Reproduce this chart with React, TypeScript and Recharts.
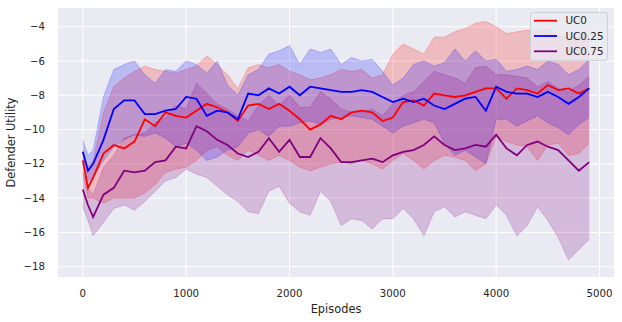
import React from 'react';
import { ComposedChart, Line, Area, XAxis, YAxis, CartesianGrid } from 'recharts';

const episodes = [
  0, 50, 100, 200, 300, 400, 500, 600, 700, 800, 900,
  1000, 1100, 1200, 1300, 1400, 1500, 1600, 1700, 1800, 1900,
  2000, 2100, 2200, 2300, 2400, 2500, 2600, 2700, 2800, 2900,
  3000, 3100, 3200, 3300, 3400, 3500, 3600, 3700, 3800, 3900,
  4000, 4100, 4200, 4300, 4400, 4500, 4600, 4700, 4800, 4900,
];

const uc0Mean = [
  -11.8, -13.4, -12.8, -11.4, -10.9, -11.1, -10.7, -9.4, -9.8, -9.0, -9.2,
  -9.3, -8.9, -8.5, -8.7, -9.0, -9.5, -8.6, -8.5, -8.8, -8.5,
  -8.9, -9.4, -10.0, -9.7, -9.2, -9.4, -9.0, -8.9, -9.0, -9.5,
  -9.3, -8.4, -8.3, -8.6, -7.9, -8.0, -8.1, -8.0, -7.8, -7.6,
  -7.6, -8.2, -7.6, -7.7, -7.9, -7.4, -7.7, -7.6, -7.9, -7.6,
];
const uc0Low = [
  -12.5, -14.0, -14.0, -14.3, -14.0, -14.0, -14.0, -13.7, -13.2, -12.5, -12.3,
  -12.2, -11.8, -11.2, -11.0, -11.5, -11.8, -11.2, -11.5, -11.8, -11.5,
  -11.8, -12.2, -12.4, -12.2, -12.0, -11.9, -12.0, -11.8, -12.0, -12.3,
  -11.8, -11.4, -11.8, -12.3, -11.8, -11.5, -11.6, -11.8, -12.4, -12.0,
  -10.4, -10.7, -10.9, -11.0, -11.8, -10.9, -10.8, -11.5, -11.4, -10.8,
];
const uc0High = [
  -11.2, -12.2, -11.8, -9.0, -7.5, -7.0, -6.6, -6.3, -6.5, -6.6, -6.7,
  -6.5, -6.3, -5.7, -6.2, -6.8, -7.6, -6.4, -6.2, -6.4, -6.2,
  -6.6, -6.8, -7.1, -7.0, -6.8, -6.5, -6.6, -6.5, -7.0, -6.8,
  -5.6, -5.0, -5.3, -5.6, -4.6, -4.6, -4.3, -4.1, -3.8, -3.7,
  -4.0, -4.4, -4.3, -4.2, -4.3, -4.1, -4.5, -4.7, -4.6, -4.4,
];

const uc025Mean = [
  -11.3, -12.4, -12.0, -10.6, -8.8, -8.3, -8.3, -9.1, -9.1, -8.9, -8.8,
  -8.1, -8.2, -9.2, -8.9, -9.0, -9.4, -7.9, -8.0, -7.6, -7.9,
  -7.5, -8.0, -7.5, -7.6, -7.7, -7.8, -7.8, -7.7, -7.8, -8.1,
  -8.4, -8.2, -8.4, -8.2, -8.6, -8.8, -8.5, -8.2, -8.1, -8.9,
  -7.5, -7.8, -7.9, -7.9, -8.1, -7.8, -8.1, -8.5, -8.1, -7.6,
];
const uc025Low = [
  -12.0, -13.0, -12.8, -11.8, -11.0, -10.6, -10.3, -10.4, -10.2, -10.5, -11.0,
  -10.8, -11.2, -11.8, -11.6, -11.2, -11.0, -10.2, -10.0, -10.4, -9.8,
  -9.8, -9.6, -9.5, -9.7, -9.4, -9.3, -9.2, -9.3, -9.4, -9.8,
  -10.2, -9.8, -9.6, -9.4, -9.6, -10.8, -11.5, -11.2, -11.6, -12.0,
  -9.4, -9.4, -9.8, -9.5, -9.2, -9.6, -9.9, -10.3, -9.7, -9.3,
];
const uc025High = [
  -10.6, -11.5, -11.2, -8.1, -6.5, -6.2, -6.0, -6.8, -7.3, -6.5, -6.6,
  -6.0, -6.2, -6.7, -6.0, -7.4, -8.0, -6.8, -6.5, -5.6, -5.4,
  -5.1, -6.2, -5.3, -5.5, -5.3, -6.2, -5.8, -6.0, -5.9, -6.6,
  -7.4, -7.0, -6.2, -6.0, -6.3, -6.1, -5.3, -6.0, -5.4, -6.0,
  -5.9, -6.6, -6.5, -6.3, -6.5, -6.0, -6.2, -6.8, -6.5, -5.9,
];

const uc075Mean = [
  -13.5, -14.4, -15.1, -13.8, -13.4, -12.4, -12.5, -12.4, -11.9, -11.8, -11.0,
  -11.1, -9.8, -10.1, -10.6, -10.9, -11.4, -11.6, -11.3, -10.5, -11.3,
  -10.6, -11.6, -11.6, -10.5, -11.1, -11.9, -11.9, -11.8, -11.7, -11.9,
  -11.5, -11.3, -11.2, -10.9, -10.4, -10.9, -11.2, -11.1, -10.9, -11.0,
  -10.3, -11.1, -11.5, -10.9, -10.7, -11.0, -11.2, -11.8, -12.4, -11.9,
];
const uc075Low = [
  -14.5, -15.3, -16.2, -15.4, -14.6, -14.4, -14.7, -14.2, -13.6, -13.0, -12.8,
  -12.3, -12.6, -12.8, -13.3, -13.8, -14.2, -14.8, -14.9, -13.6, -13.3,
  -14.3, -14.8, -15.0, -13.6, -14.2, -15.6, -15.2, -15.3, -15.8, -15.2,
  -15.2, -14.6, -15.2, -16.2, -14.8, -14.5, -15.1, -14.8, -15.0, -15.2,
  -14.4, -15.0, -16.2, -15.6, -14.5, -15.3, -16.3, -17.6, -17.0, -16.4,
];
const uc075High = [
  -12.5, -13.4, -13.8, -12.2, -11.5, -10.5, -10.3, -10.2, -9.6, -9.3, -8.6,
  -8.8, -7.3, -7.9, -8.5, -8.8, -9.2, -9.5, -8.6, -8.0, -8.6,
  -8.0, -8.7, -8.7, -7.8, -8.2, -8.8, -9.0, -9.0, -8.8, -9.2,
  -8.5, -8.0, -7.8, -7.2, -6.6, -6.8, -7.0, -7.3, -6.4, -6.3,
  -6.8, -6.8, -6.9, -7.0, -7.5, -7.2, -7.6, -7.8, -7.4, -6.9,
];

const xTicks = [0, 1000, 2000, 3000, 4000, 5000];
const yTicks = [-18, -16, -14, -12, -10, -8, -6, -4];
const seriesNames = ['UC0', 'UC0.25', 'UC0.75'];
const seriesColors = ['#ff0000', '#0000ff', '#800080'];

const data = episodes.map((ep, i) => ({
  ep,
  uc0: uc0Mean[i],
  uc0Band: [uc0Low[i], uc0High[i]],
  uc025: uc025Mean[i],
  uc025Band: [uc025Low[i], uc025High[i]],
  uc075: uc075Mean[i],
  uc075Band: [uc075Low[i], uc075High[i]],
}));

const FONT = 'DejaVu Sans, sans-serif';
const TEXT = '#262626';

const fmtY = (v: number) => String(v).replace('-', '\u2212');

export default function App() {
  const keys = [
    ['uc0', 'uc0Band'],
    ['uc025', 'uc025Band'],
    ['uc075', 'uc075Band'],
  ];
  const layers: React.ReactNode[] = [];
  keys.forEach(([m, b], i) => {
    layers.push(
      <Line
        key={m}
        dataKey={m}
        type="linear"
        stroke={seriesColors[i]}
        strokeWidth={1.8}
        dot={false}
        activeDot={false}
        isAnimationActive={false}
      />
    );
    layers.push(
      <Area
        key={b}
        dataKey={b}
        type="linear"
        fill={seriesColors[i]}
        fillOpacity={0.2}
        stroke={seriesColors[i]}
        strokeOpacity={0.2}
        strokeWidth={1}
        dot={false}
        activeDot={false}
        isAnimationActive={false}
      />
    );
  });

  return (
    <div style={{ position: 'absolute', left: 0, top: 0, width: 622, height: 322, background: '#fff' }}>
      <ComposedChart width={622} height={322} data={data} margin={{ top: 8, right: 8, bottom: 0, left: 0 }}>
        <CartesianGrid stroke="#ffffff" strokeWidth={1} fill="#eaeaf2" horizontalValues={yTicks} verticalValues={xTicks} />
        <XAxis
          dataKey="ep"
          type="number"
          domain={[-240, 5140]}
          ticks={xTicks}
          height={45}
          axisLine={false}
          tickLine={false}
          tickSize={0}
          tickMargin={13}
          tick={{ fill: TEXT, fontSize: 10.2, fontFamily: FONT }}
          allowDataOverflow
          label={{
            content: () => (
              <text x={336} y={312.5} textAnchor="middle" fill={TEXT} fontSize={11.4} fontFamily={FONT}>
                Episodes
              </text>
            ),
          }}
        />
        <YAxis
          type="number"
          domain={[-18.6, -2.91]}
          ticks={yTicks}
          width={58}
          axisLine={false}
          tickLine={false}
          tickSize={0}
          tickMargin={13}
          tickFormatter={fmtY}
          tick={{ fill: TEXT, fontSize: 10.2, fontFamily: FONT }}
          allowDataOverflow
          label={{
            content: () => (
              <text
                x={14.5}
                y={142.5}
                transform="rotate(-90 14.5 142.5)"
                textAnchor="middle"
                fill={TEXT}
                fontSize={11.4}
                fontFamily={FONT}
              >
                Defender Utility
              </text>
            ),
          }}
        />
        {layers}
      </ComposedChart>
      <div
        style={{
          position: 'absolute',
          left: 530,
          top: 12,
          width: 78,
          height: 49,
          background: 'rgba(234,234,242,0.8)',
          border: '1px solid #d0d0d8',
          borderRadius: 3,
          boxSizing: 'border-box',
        }}
      >
        <svg width={78} height={49} style={{ position: 'absolute', left: -1, top: -1 }}>
          {seriesNames.map((n, i) => (
            <g key={n}>
              <line x1={4} x2={27} y1={8.7 + i * 15.3} y2={8.7 + i * 15.3} stroke={seriesColors[i]} strokeWidth={1.8} />
              <text x={35.5} y={8.7 + i * 15.3 + 3.7} fill={TEXT} fontSize={10.4} fontFamily={FONT}>
                {n}
              </text>
            </g>
          ))}
        </svg>
      </div>
    </div>
  );
}
